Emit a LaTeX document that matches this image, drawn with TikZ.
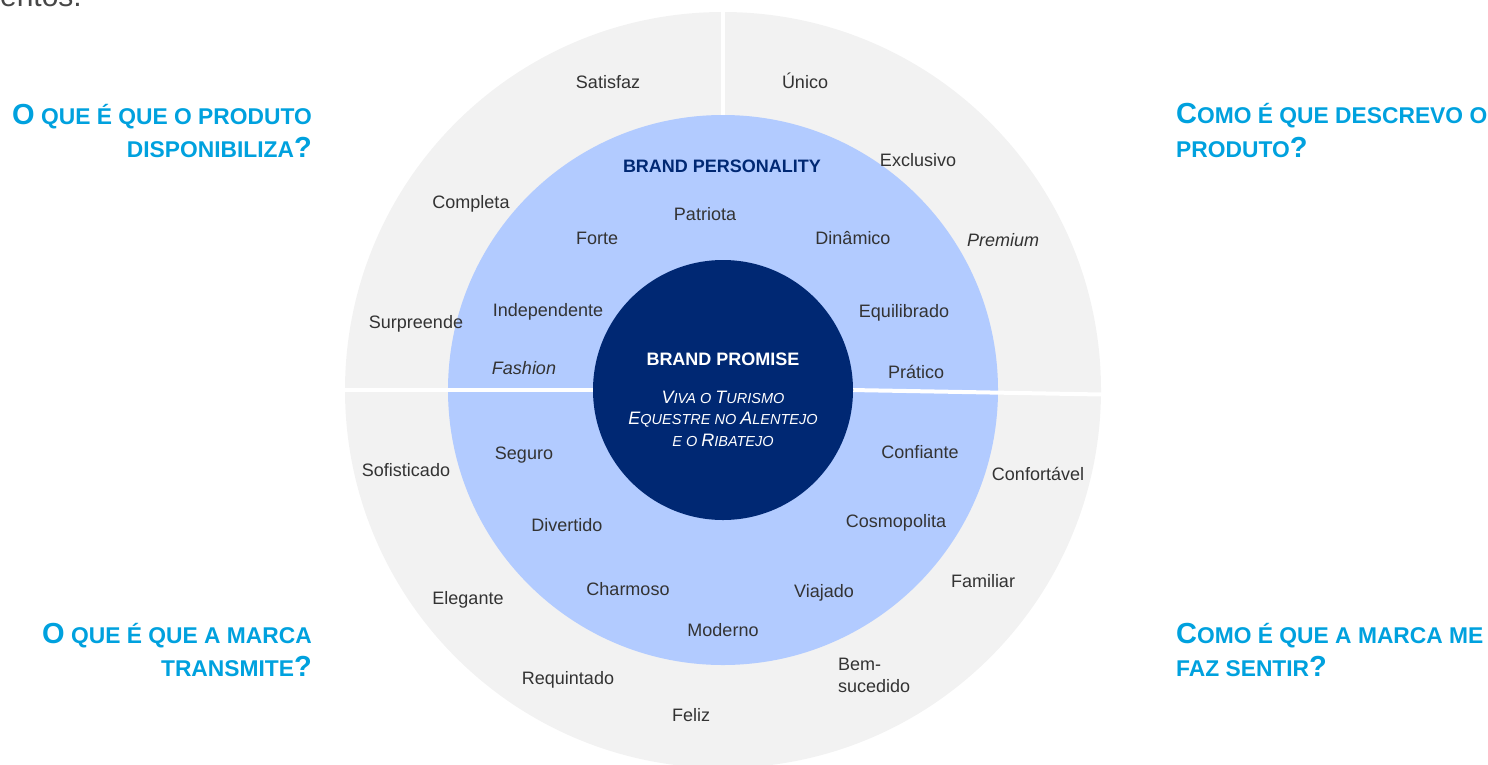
\documentclass[tikz,border=0pt]{standalone}
\usepackage{fontspec}
\setmainfont{Liberation Sans}
\definecolor{ringgray}{RGB}{242,242,242}
\definecolor{ringblue}{RGB}{178,203,255}
\definecolor{corenavy}{RGB}{0,40,115}
\definecolor{hdrblue}{RGB}{0,161,222}
\definecolor{txtgray}{RGB}{51,51,51}
\newcommand\hbig[1]{{\fontsize{29}{33}\selectfont #1}}
\newcommand\hsml[1]{{\fontsize{22.8}{26}\selectfont #1}}
\newcommand\pbig[1]{{\fontsize{18}{21}\selectfont #1}}
\newcommand\psml[1]{{\fontsize{14.5}{17}\selectfont #1}}
\tikzset{
  lbl/.style={font=\fontsize{18}{21}\selectfont, text=txtgray, anchor=base, inner sep=0pt},
  ital/.style={lbl, font=\fontsize{18}{21}\selectfont\itshape},
  hdrL/.style={font=\fontsize{22.8}{26}\selectfont\bfseries, text=hdrblue, anchor=base east, inner sep=0pt},
  hdrR/.style={font=\fontsize{22.8}{26}\selectfont\bfseries, text=hdrblue, anchor=base west, inner sep=0pt},
  disc/.style={circle, draw=none, inner sep=0pt},
  divider/.style={draw=white, line width=4pt},
  promise/.style={font=\fontsize{14.5}{17}\selectfont\itshape, text=white, anchor=base, inner sep=0pt}
}
\begin{document}
\begin{tikzpicture}[x=1pt,y=-1pt]
\useasboundingbox (0,0) rectangle (1488,764);
% top cut text
\node[font=\fontsize{30}{34}\selectfont, text=txtgray!90, anchor=base east, inner sep=0pt] (cut) at (82,6) {mentos.};
% discs
\node[disc, fill=ringgray, minimum size=756pt] (outer) at (723,390) {};
\coordinate (vtop) at (723,11);
\coordinate (vbot) at (723,120);
\draw[divider] (vtop) -- (vbot);
\node[disc, fill=ringblue, minimum size=550pt] (ring) at (723,390) {};
\coordinate (rend) at (1102,394.5);
\coordinate (rstart) at (840,389.8);
\draw[divider] (outer.west) -- (ring.center);
\draw[divider] (rstart) -- (rend);
\node[disc, fill=corenavy, minimum size=260pt] (core) at (723,390) {};
% headers
\node[hdrL] (h1a) at (312,124) {\hbig{O} QUE É QUE O PRODUTO};
\node[hdrL] (h1b) at (312,157) {DISPONIBILIZA\hbig{?}};
\node[hdrR] (h2a) at (1176,123.5) {\hbig{C}OMO É QUE DESCREVO O};
\node[hdrR] (h2b) at (1176,157) {PRODUTO\hbig{?}};
\node[hdrL] (h3a) at (312,643) {\hbig{O} QUE É QUE A MARCA};
\node[hdrL] (h3b) at (312,676) {TRANSMITE\hbig{?}};
\node[hdrR] (h4a) at (1176,643.5) {\hbig{C}OMO É QUE A MARCA ME};
\node[hdrR] (h4b) at (1176,676) {FAZ SENTIR\hbig{?}};
% outer ring labels
\node[lbl] (satisfaz) at (608,88) {Satisfaz};
\node[lbl] (unico) at (805,88) {Único};
\node[lbl] (completa) at (471,208) {Completa};
\node[lbl] (exclusivo) at (918,166) {Exclusivo};
\node[ital] (premium) at (1003,246) {Premium};
\node[lbl] (surpreende) at (416,328) {Surpreende};
\node[lbl] (sofisticado) at (406,476) {Sofisticado};
\node[lbl] (confortavel) at (1038,480) {Confortável};
\node[lbl] (familiar) at (983,587) {Familiar};
\node[lbl] (elegante) at (468,604) {Elegante};
\node[lbl] (requintado) at (568,684) {Requintado};
\node[lbl, anchor=base west] (bem) at (838,670) {Bem-};
\node[lbl, anchor=base west] (sucedido) at (838,692) {sucedido};
\node[lbl] (feliz) at (691,721) {Feliz};
% personality ring
\node[lbl, font=\fontsize{18}{21}\selectfont\bfseries, text=corenavy] (bp) at (722,172) {BRAND PERSONALITY};
\node[lbl] (patriota) at (705,220) {Patriota};
\node[lbl] (forte) at (597,244) {Forte};
\node[lbl] (dinamico) at (853,244) {Dinâmico};
\node[lbl] (independente) at (548,316) {Independente};
\node[lbl] (equilibrado) at (904,317) {Equilibrado};
\node[ital] (fashion) at (524,374) {Fashion};
\node[lbl] (pratico) at (916,378) {Prático};
\node[lbl] (seguro) at (524,459) {Seguro};
\node[lbl] (confiante) at (920,458) {Confiante};
\node[lbl] (divertido) at (567,531) {Divertido};
\node[lbl] (cosmopolita) at (896,527) {Cosmopolita};
\node[lbl] (charmoso) at (628,595) {Charmoso};
\node[lbl] (viajado) at (824,597) {Viajado};
\node[lbl] (moderno) at (723,636) {Moderno};
% core
\node[lbl, font=\fontsize{18}{21}\selectfont\bfseries, text=white] (bpr) at (723,365.5) {BRAND PROMISE};
\node[promise] (pl1) at (723,403) {\pbig{V}IVA O \pbig{T}URISMO};
\node[promise] (pl2) at (723,424.5) {\pbig{E}QUESTRE NO \pbig{A}LENTEJO};
\node[promise] (pl3) at (723,446) {E O \pbig{R}IBATEJO};
\end{tikzpicture}
\end{document}
